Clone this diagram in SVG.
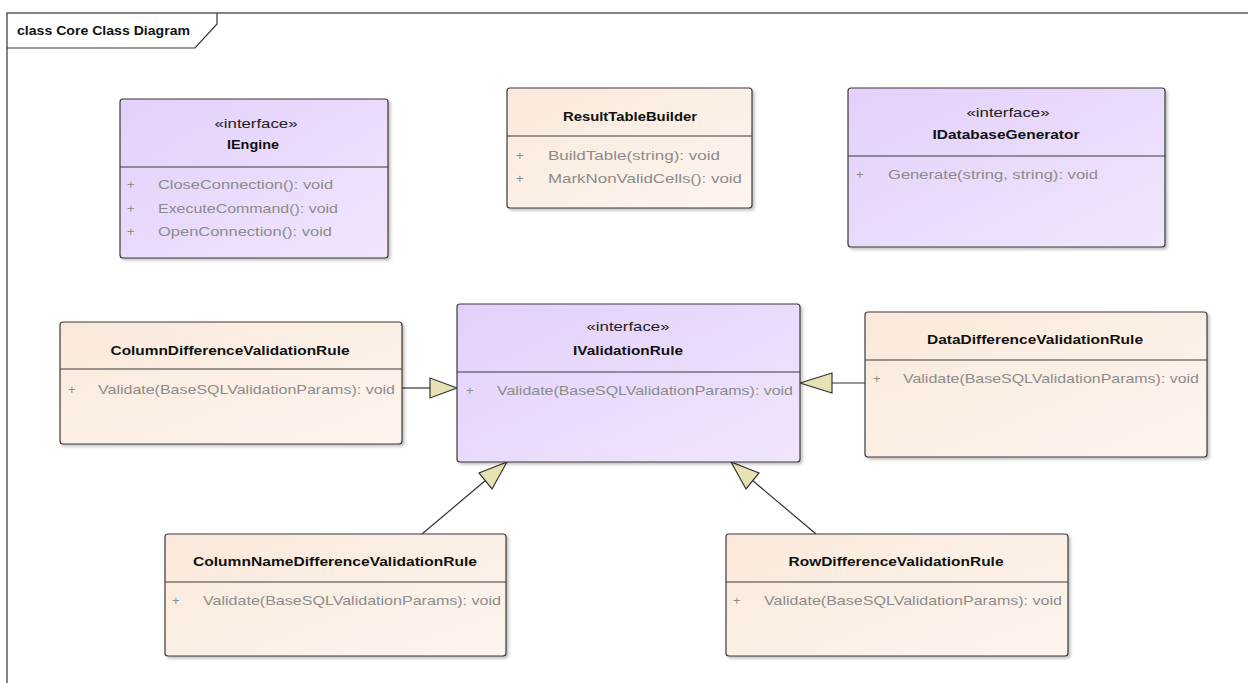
<svg xmlns="http://www.w3.org/2000/svg" width="1248" height="683" viewBox="0 0 1248 683">
  <defs>
    <linearGradient id="gIface" x1="0" y1="0" x2="1" y2="1">
      <stop offset="0" stop-color="#e2d0fa"/>
      <stop offset="1" stop-color="#f1e6fd"/>
    </linearGradient>
    <linearGradient id="gClass" x1="0" y1="0" x2="1" y2="1">
      <stop offset="0" stop-color="#fae9db"/>
      <stop offset="1" stop-color="#fdf5ee"/>
    </linearGradient>
    <filter id="shadow" x="-5%" y="-5%" width="112%" height="115%">
      <feDropShadow dx="2" dy="2" stdDeviation="1.5" flood-color="#000" flood-opacity="0.25"/>
    </filter>
  </defs>
  <style>
    .box { stroke: #3a3a3a; stroke-width: 1.2; filter: url(#shadow); }
    .iface { fill: url(#gIface); }
    .cls { fill: url(#gClass); }
    .div { stroke: #3a3a3a; stroke-width: 1.2; }
    .name { font-family: "Liberation Sans", Arial, sans-serif; font-size: 13px; font-weight: bold; fill: #111; text-anchor: middle; }
    .stereo { font-family: "Liberation Sans", Arial, sans-serif; font-size: 13px; fill: #222; text-anchor: middle; }
    .op { font-family: "Liberation Sans", Arial, sans-serif; font-size: 13px; fill: #8c8c8c; }
    .title { font-family: "Liberation Sans", Arial, sans-serif; font-size: 13px; font-weight: bold; fill: #111; }
    .edge { stroke: #333; stroke-width: 1.2; fill: none; }
    .tri { fill: #e6e2b4; stroke: #333; stroke-width: 1.2; }
  </style>

  <rect x="0" y="0" width="1248" height="683" fill="#ffffff"/>

  <!-- diagram frame with name tab -->
  <g id="frame">
    <rect x="7" y="13" width="1250" height="680" fill="none" stroke="#333" stroke-width="1.2"/>
    <path d="M7 48 H195 L217 24 V13" fill="none" stroke="#333" stroke-width="1.2"/>
    <text class="title" x="17" y="35" textLength="173" lengthAdjust="spacingAndGlyphs">class Core Class Diagram</text>
  </g>

  <!-- generalization connectors -->
  <g id="connectors">
    <line class="edge" x1="402" y1="388" x2="430" y2="388"/>
    <polygon class="tri" points="457,388 430,378 430,398"/>

    <line class="edge" x1="865" y1="383" x2="832" y2="383"/>
    <polygon class="tri" points="800,383 832,373 832,393"/>

    <line class="edge" x1="422" y1="534" x2="486" y2="480"/>
    <polygon class="tri" points="507,462 479,473 492,489"/>

    <line class="edge" x1="816" y1="534" x2="752" y2="480"/>
    <polygon class="tri" points="731,462 746,489 759,473"/>
  </g>

  <g id="IEngine">
    <rect class="box iface" x="120" y="99" width="268" height="159" rx="3"/>
    <line class="div" x1="120" y1="167" x2="388" y2="167"/>
    <text class="stereo" x="256" y="128" textLength="83" lengthAdjust="spacingAndGlyphs">«interface»</text>
    <text class="name" x="253" y="149" textLength="52" lengthAdjust="spacingAndGlyphs">IEngine</text>
    <text class="op" x="127" y="189">+</text>
    <text class="op" x="158" y="189" textLength="175" lengthAdjust="spacingAndGlyphs">CloseConnection(): void</text>
    <text class="op" x="127" y="213">+</text>
    <text class="op" x="158" y="213" textLength="180" lengthAdjust="spacingAndGlyphs">ExecuteCommand(): void</text>
    <text class="op" x="127" y="236">+</text>
    <text class="op" x="158" y="236" textLength="174" lengthAdjust="spacingAndGlyphs">OpenConnection(): void</text>
  </g>

  <g id="ResultTableBuilder">
    <rect class="box cls" x="507" y="88" width="245" height="120" rx="3"/>
    <line class="div" x1="507" y1="136" x2="752" y2="136"/>
    <text class="name" x="630" y="121" textLength="134" lengthAdjust="spacingAndGlyphs">ResultTableBuilder</text>
    <text class="op" x="516" y="160">+</text>
    <text class="op" x="548" y="160" textLength="172" lengthAdjust="spacingAndGlyphs">BuildTable(string): void</text>
    <text class="op" x="516" y="183">+</text>
    <text class="op" x="548" y="183" textLength="194" lengthAdjust="spacingAndGlyphs">MarkNonValidCells(): void</text>
  </g>

  <g id="IDatabaseGenerator">
    <rect class="box iface" x="848" y="88" width="317" height="159" rx="3"/>
    <line class="div" x1="848" y1="156" x2="1165" y2="156"/>
    <text class="stereo" x="1008" y="117" textLength="83" lengthAdjust="spacingAndGlyphs">«interface»</text>
    <text class="name" x="1006" y="139" textLength="147" lengthAdjust="spacingAndGlyphs">IDatabaseGenerator</text>
    <text class="op" x="856" y="179">+</text>
    <text class="op" x="888" y="179" textLength="210" lengthAdjust="spacingAndGlyphs">Generate(string, string): void</text>
  </g>

  <g id="ColumnDifferenceValidationRule">
    <rect class="box cls" x="60" y="322" width="342" height="122" rx="3"/>
    <line class="div" x1="60" y1="369" x2="402" y2="369"/>
    <text class="name" x="230" y="355" textLength="239" lengthAdjust="spacingAndGlyphs">ColumnDifferenceValidationRule</text>
    <text class="op" x="68" y="394">+</text>
    <text class="op" x="98" y="394" textLength="297" lengthAdjust="spacingAndGlyphs">Validate(BaseSQLValidationParams): void</text>
  </g>

  <g id="IValidationRule">
    <rect class="box iface" x="457" y="304" width="343" height="158" rx="3"/>
    <line class="div" x1="457" y1="372" x2="800" y2="372"/>
    <text class="stereo" x="628" y="331" textLength="83" lengthAdjust="spacingAndGlyphs">«interface»</text>
    <text class="name" x="628" y="355" textLength="110" lengthAdjust="spacingAndGlyphs">IValidationRule</text>
    <text class="op" x="466" y="395">+</text>
    <text class="op" x="497" y="395" textLength="296" lengthAdjust="spacingAndGlyphs">Validate(BaseSQLValidationParams): void</text>
  </g>

  <g id="DataDifferenceValidationRule">
    <rect class="box cls" x="865" y="312" width="342" height="145" rx="3"/>
    <line class="div" x1="865" y1="360" x2="1207" y2="360"/>
    <text class="name" x="1035" y="344" textLength="216" lengthAdjust="spacingAndGlyphs">DataDifferenceValidationRule</text>
    <text class="op" x="873" y="383">+</text>
    <text class="op" x="903" y="383" textLength="296" lengthAdjust="spacingAndGlyphs">Validate(BaseSQLValidationParams): void</text>
  </g>

  <g id="ColumnNameDifferenceValidationRule">
    <rect class="box cls" x="165" y="534" width="341" height="122" rx="3"/>
    <line class="div" x1="165" y1="582" x2="506" y2="582"/>
    <text class="name" x="335" y="566" textLength="284" lengthAdjust="spacingAndGlyphs">ColumnNameDifferenceValidationRule</text>
    <text class="op" x="172" y="605">+</text>
    <text class="op" x="203" y="605" textLength="298" lengthAdjust="spacingAndGlyphs">Validate(BaseSQLValidationParams): void</text>
  </g>

  <g id="RowDifferenceValidationRule">
    <rect class="box cls" x="726" y="534" width="342" height="122" rx="3"/>
    <line class="div" x1="726" y1="582" x2="1068" y2="582"/>
    <text class="name" x="896" y="566" textLength="215" lengthAdjust="spacingAndGlyphs">RowDifferenceValidationRule</text>
    <text class="op" x="733" y="605">+</text>
    <text class="op" x="764" y="605" textLength="298" lengthAdjust="spacingAndGlyphs">Validate(BaseSQLValidationParams): void</text>
  </g>
</svg>
